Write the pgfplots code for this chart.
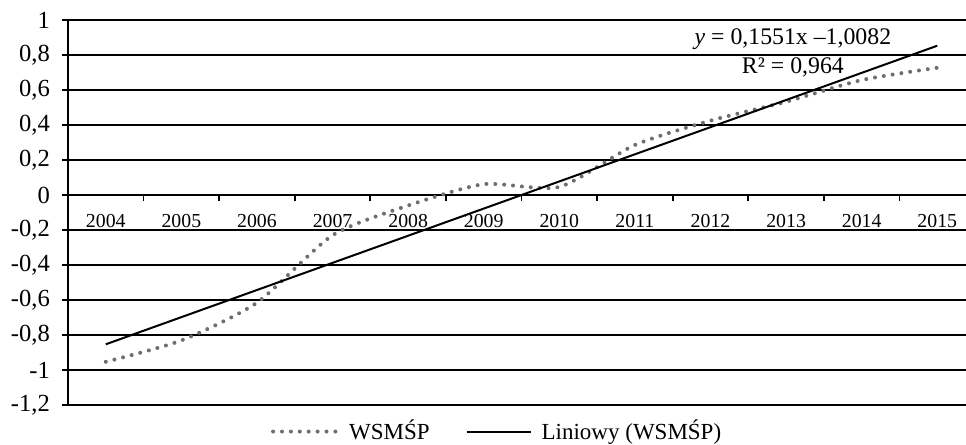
\documentclass[border=0pt]{standalone}
\usepackage{pgfplots}
\pgfplotsset{compat=1.18}
\usepackage{fontspec}
\setmainfont{Liberation Serif}
\definecolor{dotgray}{RGB}{110,110,110}
\begin{document}
\begin{tikzpicture}
\begin{axis}[
  scale only axis,
  width=449pt, height=192.5pt,
  xmin=0.5, xmax=12.38,
  ymin=-1.2, ymax=1,
  axis x line=middle,
  axis y line=left,
  axis line style={-, black, line width=0.9pt},
  ytick={-1.2,-1,-0.8,-0.6,-0.4,-0.2,0,0.2,0.4,0.6,0.8,1},
  yticklabels={{-1,2},{-1},{-0,8},{-0,6},{-0,4},{-0,2},{0},{0,2},{0,4},{0,6},{0,8},{1}},
  ymajorgrids,
  grid style={black, line width=0.9pt},
  tick style={black, line width=0.9pt},
  tick align=outside,
  major tick length=3pt,
  yticklabel style={font=\fontsize{12.3}{14}\selectfont, xshift=-2.5pt},
  xtick={1.5,2.5,3.5,4.5,5.5,6.5,7.5,8.5,9.5,10.5,11.5},
  xticklabels={},
  extra x ticks={1,2,3,4,5,6,7,8,9,10,11,12},
  extra x tick labels={2004,2005,2006,2007,2008,2009,2010,2011,2012,2013,2014,2015},
  extra x tick style={major tick length=0pt, grid=none},
  xticklabel style={font=\fontsize{9.9}{12}\selectfont, yshift=-6pt},
  clip=false,
  legend style={at={(0.479,-0.028)}, anchor=north, draw=none, fill=none,
    legend columns=2, font=\fontsize{11.5}{13}\selectfont,
    /tikz/every even column/.append style={column sep=16pt},
    inner sep=0pt},
  legend cell align=left,
  legend image code/.code={\draw[#1] (0pt,0pt) -- (32pt,0pt);},
]
\addplot[dotgray, line width=2pt, line cap=round, dash pattern=on 0pt off 4.45pt, smooth, tension=0.4]
  coordinates {(1,-0.953) (2,-0.831) (3,-0.615) (4,-0.23) (5,-0.06) (6,0.062) (7,0.046) (8,0.286) (9,0.425) (10,0.533) (11,0.657) (12,0.727)};
\addlegendentry{\hspace{3pt}WSMŚP}
\addplot[black, line width=1pt]
  coordinates {(1,-0.8531) (12,0.8530)};
\addlegendentry{\hspace{3pt}Liniowy (WSMŚP)}
\node[align=center, font=\fontsize{11.9}{14.5}\selectfont, inner sep=0pt] at (axis cs:10.09,0.81)
  {\textit{y} = 0,1551x –1,0082\\R² = 0,964};
\end{axis}
\pgfresetboundingbox
\path[use as bounding box] ([xshift=-34pt,yshift=-19.5pt]current axis.south west) rectangle ([yshift=10pt]current axis.north east);
\end{tikzpicture}
\end{document}
